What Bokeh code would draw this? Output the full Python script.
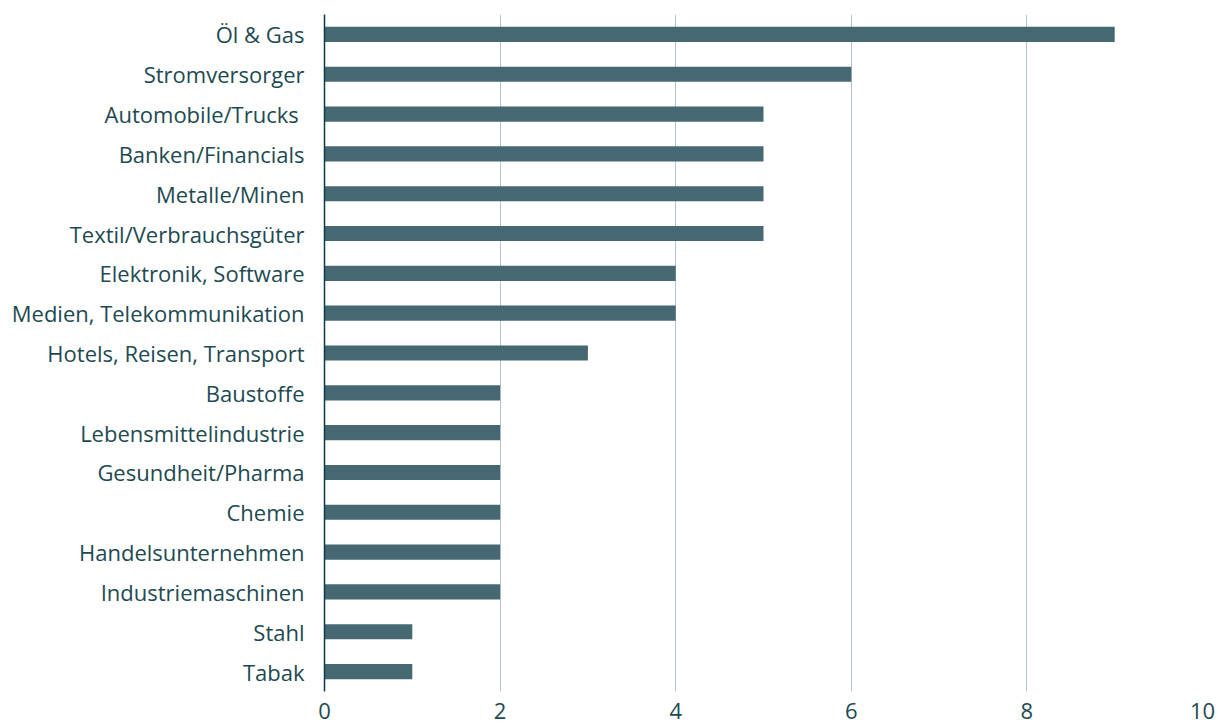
from bokeh.plotting import figure
from bokeh.models import Range1d, FixedTicker
from bokeh.embed import file_html
from bokeh.resources import INLINE

categories = ["Öl & Gas", "Stromversorger", "Automobile/Trucks ", "Banken/Financials",
              "Metalle/Minen", "Textil/Verbrauchsgüter", "Elektronik, Software",
              "Medien, Telekommunikation", "Hotels, Reisen, Transport", "Baustoffe",
              "Lebensmittelindustrie", "Gesundheit/Pharma", "Chemie", "Handelsunternehmen",
              "Industriemaschinen", "Stahl", "Tabak"]
values = [9, 6, 5, 5, 5, 5, 4, 4, 3, 2, 2, 2, 2, 2, 2, 1, 1]
x_ticks = [0, 2, 4, 6, 8, 10]

factors = list(reversed(categories))

p = figure(frame_width=878, frame_height=677, y_range=factors, x_range=Range1d(0, 10),
           output_backend="svg", toolbar_location=None,
           min_border_left=324, min_border_right=14, min_border_top=14, min_border_bottom=36)
p.y_range.range_padding = 0

p.hbar(y=categories, right=values, left=0, height=0.38, color="#466873", line_color=None)

p.outline_line_color = None
p.ygrid.grid_line_color = None
p.xgrid.grid_line_color = "#b3c4cc"
p.xgrid.grid_line_width = 1
p.xaxis.ticker = FixedTicker(ticks=x_ticks)
p.xaxis.axis_line_color = None
p.xaxis.major_tick_line_color = None
p.xaxis.minor_tick_line_color = None
p.xaxis.major_tick_out = 0
p.xaxis.major_tick_in = 0
p.xaxis.major_label_text_font = "Open Sans"
p.xaxis.major_label_text_font_size = "22px"
p.xaxis.major_label_text_color = "#1d4a52"
p.xaxis.major_label_standoff = 11

p.yaxis.axis_line_color = "#0d3b44"
p.yaxis.axis_line_width = 1.5
p.yaxis.major_tick_line_color = None
p.yaxis.minor_tick_line_color = None
p.yaxis.major_tick_out = 0
p.yaxis.major_tick_in = 0
p.yaxis.major_label_text_font = "Open Sans"
p.yaxis.major_label_text_font_size = "22px"
p.yaxis.major_label_text_color = "#1d4a52"
p.yaxis.major_label_standoff = 20

open("out.html", "w").write(file_html(p, INLINE))
